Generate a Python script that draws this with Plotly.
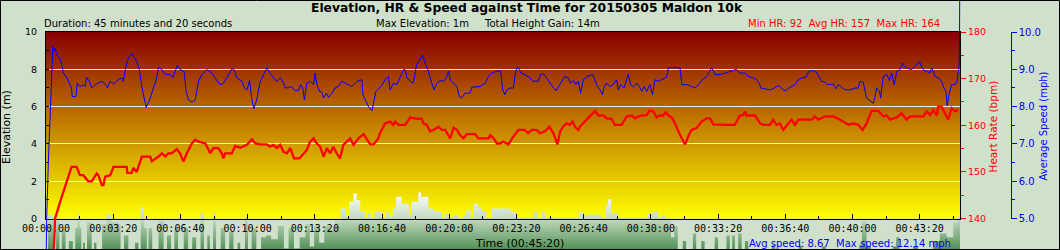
import base64
import struct
import zlib

import plotly.graph_objects as go

# ---------------- data (seconds, value) ----------------
hr_points = [(0, 92), (27, 140.0), (42, 143.6), (52, 145.7), (62, 148.2), (76, 151.1), (91, 151.1), (101, 149.3), (111, 149.3),
             (126, 148.0), (136, 148.0), (151, 149.7), (156, 149.3), (166, 147.2), (171, 147.2), (176, 149.0), (191, 149.3),
             (201, 151.1), (240, 151.1), (242, 149.8), (255, 149.8), (260, 150.9), (270, 150.0), (285, 153.3), (310, 153.3),
             (315, 152.3), (325, 152.8), (335, 153.3), (345, 154.0), (355, 153.3), (364, 154.0), (374, 154.0), (389, 154.9),
             (399, 154.0), (409, 152.2), (419, 154.0), (434, 156.1), (444, 156.9), (454, 156.5), (474, 156.1), (489, 154.0),
             (498, 155.1), (513, 155.1), (523, 154.0), (528, 152.9), (533, 154.0), (553, 154.0), (563, 155.6), (578, 155.2),
             (598, 155.8), (613, 157.0), (623, 156.1), (637, 155.9), (657, 155.9), (667, 155.4), (677, 155.8), (687, 155.1),
             (697, 155.8), (707, 154.3), (717, 154.0), (727, 155.1), (738, 152.9), (754, 152.9), (766, 154.0), (776, 154.7),
             (786, 156.5), (796, 157.2), (806, 156.1), (816, 155.4), (826, 153.3), (836, 155.1), (846, 154.0), (855, 155.4),
             (865, 154.0), (875, 152.9), (885, 155.8), (895, 156.5), (905, 157.2), (915, 155.8), (930, 157.2), (945, 158.1),
             (955, 156.9), (965, 155.9), (975, 155.9), (989, 157.2), (994, 158.3), (1009, 160.4), (1024, 160.8), (1034, 160.1),
             (1039, 160.8), (1049, 160.1), (1069, 160.1), (1084, 161.7), (1103, 161.4), (1118, 161.4), (1123, 160.4),
             (1133, 160.1), (1143, 158.7), (1153, 159.0), (1168, 159.7), (1178, 159.0), (1188, 159.0), (1203, 157.2),
             (1213, 159.5), (1223, 159.0), (1232, 157.9), (1242, 157.2), (1252, 158.1), (1277, 158.1), (1287, 157.2),
             (1317, 157.2), (1322, 157.9), (1332, 157.2), (1342, 156.1), (1351, 156.1), (1361, 156.5), (1376, 155.9),
             (1391, 157.6), (1406, 159.0), (1425, 159.0), (1435, 158.3), (1445, 159.0), (1460, 159.0), (1470, 158.3),
             (1485, 158.7), (1498, 159.7), (1510, 158.3), (1522, 155.9), (1530, 158.7), (1539, 159.7), (1549, 160.4),
             (1559, 160.1), (1567, 160.8), (1574, 159.7), (1584, 159.0), (1589, 159.7), (1604, 160.8), (1619, 161.9),
             (1634, 163.1), (1644, 162.1), (1659, 162.1), (1668, 161.5), (1683, 161.4), (1693, 160.1), (1713, 160.1),
             (1728, 161.9), (1743, 162.1), (1753, 161.5), (1763, 161.9), (1773, 162.1), (1788, 162.2), (1795, 163.1),
             (1807, 163.0), (1817, 161.7), (1827, 162.1), (1837, 162.1), (1844, 162.8), (1852, 162.1), (1862, 161.7),
             (1872, 160.4), (1887, 157.9), (1902, 155.9), (1911, 157.6), (1921, 159.0), (1936, 159.4), (1951, 160.8),
             (1966, 161.5), (1976, 161.5), (1986, 160.2), (2026, 160.1), (2050, 160.1), (2065, 162.1), (2075, 162.2),
             (2080, 163.0), (2085, 162.1), (2110, 162.1), (2125, 160.4), (2135, 160.1), (2155, 160.1), (2164, 161.2),
             (2174, 160.1), (2184, 160.4), (2194, 159.0), (2209, 160.4), (2219, 161.2), (2229, 160.1), (2239, 161.2),
             (2279, 161.2), (2288, 161.9), (2298, 161.2), (2318, 161.9), (2343, 161.9), (2363, 161.2), (2388, 160.1),
             (2403, 160.4), (2417, 160.1), (2430, 159.0), (2442, 160.4), (2457, 163.1), (2477, 163.1), (2492, 161.9),
             (2502, 162.1), (2512, 161.2), (2532, 161.7), (2546, 162.6), (2561, 161.2), (2571, 161.9), (2611, 161.9),
             (2621, 163.0), (2631, 162.2), (2641, 163.3), (2651, 162.1), (2655, 164.0), (2665, 164.0), (2675, 162.6),
             (2685, 161.2), (2695, 163.7), (2705, 163.0), (2715, 163.3)]

speed_points = [(0, 3.5), (2, 5.0), (7, 6.52), (12, 7.51), (15, 8.50), (18, 9.04), (20, 9.62), (24, 9.48), (27, 9.57),
                (32, 9.39), (42, 9.30), (47, 9.13), (52, 8.90), (62, 8.77), (72, 8.59), (76, 8.50), (78, 8.27), (89, 8.27),
                (93, 8.63), (101, 8.54), (111, 8.59), (116, 8.54), (121, 8.78), (129, 8.68), (136, 8.50), (146, 8.59),
                (156, 8.63), (166, 8.68), (176, 8.61), (183, 8.50), (191, 8.68), (201, 8.61), (215, 8.72), (225, 8.77),
                (230, 8.68), (238, 9.08), (245, 9.30), (255, 9.43), (270, 9.21), (278, 8.99), (285, 8.54), (292, 8.23),
                (298, 7.98), (308, 8.18), (320, 8.50), (328, 8.72), (335, 9.05), (345, 8.99), (355, 8.86), (370, 8.86),
                (378, 8.78), (384, 8.95), (391, 9.11), (399, 8.99), (411, 8.95), (417, 8.41), (424, 8.18), (434, 8.12),
                (444, 8.18), (454, 8.68), (464, 8.86), (477, 8.99), (489, 8.95), (503, 8.77), (518, 8.59), (526, 8.61),
                (538, 8.77), (553, 9.02), (560, 8.99), (568, 8.77), (583, 8.68), (590, 8.50), (598, 8.45), (606, 8.70),
                (610, 8.36), (618, 7.94), (627, 8.18), (637, 8.66), (647, 8.86), (657, 9.04), (667, 8.90), (677, 8.77),
                (687, 8.68), (697, 8.78), (707, 8.63), (712, 8.50), (722, 8.51), (731, 8.54), (741, 8.43), (751, 8.43),
                (758, 8.59), (764, 8.50), (769, 8.18), (776, 8.63), (786, 8.68), (796, 8.59), (801, 8.90), (806, 8.59),
                (814, 8.41), (821, 8.39), (826, 8.23), (834, 8.36), (841, 8.25), (851, 8.36), (860, 8.50), (870, 8.54),
                (880, 8.68), (890, 8.63), (900, 8.59), (910, 8.54), (925, 8.68), (940, 8.72), (943, 8.32), (950, 8.18),
                (960, 8.00), (970, 7.89), (975, 8.14), (982, 8.41), (992, 8.50), (999, 8.57), (1009, 8.72), (1019, 8.81),
                (1024, 8.45), (1034, 8.63), (1044, 8.59), (1049, 8.68), (1059, 8.86), (1064, 8.99), (1069, 8.99),
                (1074, 8.77), (1084, 8.68), (1092, 8.63), (1096, 8.77), (1103, 9.13), (1113, 9.26), (1121, 9.38),
                (1128, 9.17), (1138, 8.95), (1148, 8.63), (1155, 8.45), (1163, 8.63), (1173, 8.70), (1183, 8.68),
                (1191, 8.77), (1198, 8.95), (1203, 8.72), (1213, 8.63), (1223, 8.54), (1230, 8.27), (1237, 8.23),
                (1247, 8.36), (1262, 8.36), (1267, 8.52), (1277, 8.52), (1292, 8.54), (1307, 8.63), (1317, 8.81),
                (1327, 8.90), (1342, 8.95), (1353, 8.96), (1359, 8.45), (1366, 8.32), (1371, 8.45), (1381, 8.50),
                (1391, 8.50), (1396, 8.86), (1401, 9.04), (1406, 9.04), (1413, 8.90), (1425, 8.86), (1440, 8.77),
                (1450, 8.68), (1465, 8.68), (1472, 8.86), (1480, 8.88), (1490, 8.77), (1500, 8.63), (1510, 8.50),
                (1518, 8.43), (1525, 8.54), (1535, 8.68), (1544, 8.81), (1554, 8.77), (1561, 8.63), (1569, 8.70),
                (1577, 8.59), (1584, 8.68), (1591, 8.36), (1599, 8.72), (1611, 8.81), (1627, 8.86), (1634, 8.68),
                (1641, 8.54), (1649, 8.45), (1656, 8.32), (1661, 8.52), (1668, 8.63), (1678, 8.54), (1688, 8.59),
                (1698, 8.72), (1703, 8.45), (1710, 8.59), (1720, 8.50), (1728, 8.72), (1733, 8.86), (1740, 8.59),
                (1748, 8.52), (1758, 8.63), (1766, 8.54), (1773, 8.41), (1780, 8.54), (1788, 8.41), (1797, 8.59),
                (1805, 8.32), (1812, 8.72), (1822, 8.68), (1837, 8.75), (1847, 8.79), (1852, 9.04), (1872, 9.04),
                (1887, 9.04), (1892, 8.59), (1907, 8.59), (1921, 8.54), (1931, 8.50), (1941, 8.59), (1951, 8.70),
                (1966, 8.81), (1976, 8.99), (1981, 9.04), (1991, 8.86), (2006, 8.86), (2021, 8.90), (2035, 8.95),
                (2045, 8.97), (2055, 9.00), (2065, 8.90), (2080, 8.90), (2090, 8.81), (2105, 8.77), (2115, 8.72),
                (2123, 8.63), (2127, 8.50), (2135, 8.48), (2155, 8.45), (2164, 8.48), (2179, 8.57), (2189, 8.50),
                (2196, 8.43), (2204, 8.45), (2214, 8.52), (2229, 8.59), (2239, 8.72), (2249, 8.77), (2262, 8.79),
                (2269, 8.93), (2279, 8.97), (2291, 8.95), (2301, 8.81), (2308, 8.68), (2318, 8.66), (2325, 8.59),
                (2333, 8.59), (2343, 8.61), (2351, 8.48), (2358, 8.59), (2368, 8.52), (2378, 8.45), (2393, 8.45),
                (2408, 8.50), (2417, 8.50), (2422, 8.68), (2432, 8.66), (2437, 8.41), (2442, 8.23), (2452, 8.16),
                (2462, 8.09), (2467, 8.27), (2472, 8.50), (2480, 8.41), (2484, 8.23), (2487, 8.50), (2492, 8.81),
                (2502, 8.86), (2510, 8.70), (2517, 8.90), (2524, 8.59), (2532, 8.95), (2541, 8.99), (2549, 9.17),
                (2556, 9.06), (2566, 9.02), (2576, 8.99), (2586, 9.08), (2599, 9.21), (2606, 9.06), (2613, 8.97),
                (2621, 8.95), (2629, 8.90), (2636, 9.04), (2646, 8.81), (2656, 8.77), (2665, 8.68), (2672, 8.50),
                (2678, 8.41), (2682, 8.03), (2688, 8.36), (2695, 8.59), (2702, 8.59), (2710, 8.63), (2715, 8.99),
                (2718, 9.14), (2720, 12.14)]

elevation_points = [(0, -1.7), (6, 0.2), (22, -1.7), (30, -0.1), (40, -1.7), (47, -0.6), (58, -1.7), (68, -1.2), (80, -1.7),
                    (87, -0.5), (94, 0.25), (100, -0.5), (105, -1.7), (110, -1.3), (116, -1.7), (122, -0.2), (136, -1.7),
                    (143, -1.3), (150, -1.7), (167, -0.3), (180, 0.22), (195, -0.2), (215, -0.3), (222, -1.7), (232, -0.9),
                    (245, -1.7), (265, -1.3), (275, -1.7), (282, 0.6), (292, -0.5), (300, -1.7), (305, -0.5), (316, -1.7),
                    (335, -0.1), (350, -1.7), (360, -0.9), (372, -1.7), (382, -0.5), (393, -1.7), (410, -0.5), (423, -1.7),
                    (435, -1.0), (447, -1.7), (460, 0.27), (470, -1.7), (480, -0.9), (488, -1.7), (497, 0.27), (506, -1.7),
                    (520, -0.5), (533, -1.7), (545, -0.7), (558, -1.7), (570, -1.3), (578, -1.7), (592, 0.1), (601, -1.7),
                    (612, -0.5), (626, -1.7), (640, -1.0), (655, -0.9), (670, -1.1), (690, -0.4), (708, -1.6), (722, -0.5),
                    (738, -1.6), (755, -1.0), (772, -0.3), (785, -1.5), (798, -0.4), (813, -1.3), (828, -0.4), (845, -0.6),
                    (860, -0.1), (877, 0.54), (893, 0.1), (902, 0.9), (915, 1.35), (925, 1.0), (935, 0.4), (949, 0.05),
                    (957, 0.27), (968, 0.05), (977, 0.36), (998, 0.05), (1012, 0.36), (1023, 0.1), (1032, 0.54),
                    (1042, 1.17), (1058, 0.8), (1080, 0.2), (1087, 0.9), (1108, 1.4), (1116, 1.17), (1138, 0.54),
                    (1153, 0.36), (1178, 0.05), (1187, 0.27), (1198, 0.05), (1212, 0.18), (1228, 0.0), (1242, 0.18),
                    (1250, 0.45), (1264, 0.05), (1272, 0.8), (1286, 0.6), (1296, 0.36), (1310, 0.05), (1327, 0.54),
                    (1382, 0.36), (1396, 0.05), (1451, 0.36), (1462, 0.05), (1475, 0.36), (1486, 0.05), (1586, 0.36),
                    (1597, 0.2), (1652, 0.05), (1666, 0.7), (1672, 1.04), (1682, 0.27), (1702, 0.05), (1791, 0.27),
                    (1806, 0.36), (1822, 0.05), (1831, 0.18), (1842, 0.02), (1860, -1.0), (1870, -0.4), (1880, -1.7),
                    (1895, -1.2), (1905, -1.7), (1925, -0.8), (1935, -1.7), (1950, -1.2), (1960, -1.7), (1990, -1.0),
                    (2000, -1.7), (2025, -0.9), (2035, -1.7), (2042, -0.9), (2050, -1.7), (2060, -0.8), (2070, -1.7),
                    (2080, -1.2), (2090, -1.8), (2160, -1.4), (2170, -1.8), (2240, -1.45), (2250, -1.8), (2310, -1.5),
                    (2320, -1.8), (2420, -1.4), (2428, -0.1), (2442, -1.5), (2455, -1.8), (2520, -1.5), (2530, -1.0),
                    (2540, -1.8), (2580, -1.5), (2595, -1.8), (2640, -1.2), (2660, -0.8), (2680, -1.0), (2700, -0.2),
                    (2712, 0.1), (2720, 0.1)]

hr_time, hr_bpm = zip(*hr_points)
speed_time, speed_mph = zip(*speed_points)
elev_time, elev_m = zip(*elevation_points)

duration_s = 2720
elev_range = [0, 10]
hr_range = [140, 180]
speed_range = [5, 10]
time_tick_values = list(range(0, 2601, 200))
time_tick_labels = ["%02d:%02d:%02d" % (v // 3600, (v % 3600) // 60, v % 60) for v in time_tick_values]

title_text = "Elevation, HR & Speed against Time for 20150305 Maldon 10k"

# ---------------- layout geometry (pixels) ----------------
W, H = 1060, 250
FL, FR, FT, FB = 46.0, 960.0, 32.0, 218.6
BG = "#cfe0cb"
FONT = "DejaVu Sans"


def full_range(lo, hi, p_lo, p_hi, total):
    k = (hi - lo) / (p_hi - p_lo)
    return [lo - p_lo * k, lo + (total - p_lo) * k]


x_full = full_range(0, duration_s, FL, FR, W)
elev_full = full_range(elev_range[0], elev_range[1], H - FB, H - FT, H)
hr_full = full_range(hr_range[0], hr_range[1], H - FB, H - FT, H)
speed_full = full_range(speed_range[0], speed_range[1], H - FB, H - FT, H)
frame_xdom = [FL / W, FR / W]
frame_ydom = [(H - FB) / H, (H - FT) / H]


def gradient_png(top, bottom, n=256):
    rows = []
    for i in range(n):
        f = i / (n - 1)
        c = bytes(int(round(top[j] + (bottom[j] - top[j]) * f)) for j in range(3))
        rows.append(b"\x00" + c)
    raw = b"".join(rows)

    def chunk(tag, data):
        return struct.pack(">I", len(data)) + tag + data + struct.pack(">I", zlib.crc32(tag + data) & 0xffffffff)

    png = (b"\x89PNG\r\n\x1a\n" + chunk(b"IHDR", struct.pack(">IIBBBBB", 1, n, 8, 2, 0, 0, 0))
           + chunk(b"IDAT", zlib.compress(raw)) + chunk(b"IEND", b""))
    return "data:image/png;base64," + base64.b64encode(png).decode()


fig = go.Figure()

# elevation (drawn first, on a full-height axis so it can extend below the frame)
fig.add_trace(go.Scatter(x=[elev_time[0], elev_time[-1]], y=[elev_full[0], elev_full[0]], mode="lines",
                         line=dict(width=0), hoverinfo="skip", showlegend=False, xaxis="x", yaxis="y"))
fig.add_trace(go.Scatter(x=elev_time, y=elev_m, mode="lines", line=dict(width=0, shape="hv"), fill="tonexty",
                         fillgradient=dict(type="vertical", start=elev_full[0], stop=1.45,
                                           colorscale=[[0, "#4f8f53"], [0.537, "#c3dac1"], [1, "#ffffff"]]),
                         showlegend=False, xaxis="x", yaxis="y"))

# empty traces so the frame axes get drawn
for ya in ("y2", "y3", "y4"):
    fig.add_trace(go.Scatter(x=[None], y=[None], mode="lines", hoverinfo="skip", showlegend=False,
                             xaxis="x2", yaxis=ya))

# heart rate and speed lines (drawn last, unclipped by the frame)
fig.add_trace(go.Scatter(x=hr_time, y=hr_bpm, mode="lines", line=dict(color="#ff0000", width=2.3),
                         showlegend=False, xaxis="x3", yaxis="y5"))
fig.add_trace(go.Scatter(x=speed_time, y=speed_mph, mode="lines", line=dict(color="#0000ff", width=1),
                         showlegend=False, xaxis="x3", yaxis="y6"))

hidden = dict(visible=False, showgrid=False, zeroline=False, fixedrange=True, automargin=False)

fig.update_layout(
    template="none",
    width=W, height=H, margin=dict(l=0, r=0, t=0, b=0, pad=0, autoexpand=False),
    paper_bgcolor=BG, plot_bgcolor="rgba(0,0,0,0)",
    font=dict(family=FONT, size=10, color="black"),
    showlegend=False,
    xaxis=dict(domain=[0, 1], range=x_full, anchor="y", **hidden),
    yaxis=dict(domain=[0, 1], range=elev_full, anchor="x", **hidden),
    xaxis3=dict(domain=[0, 1], range=x_full, anchor="y5", **hidden),
    yaxis5=dict(domain=[0, 1], range=hr_full, anchor="x3", **hidden),
    yaxis6=dict(domain=[0, 1], range=speed_full, anchor="x3", overlaying="y5", **hidden),
    # visible frame axes
    xaxis2=dict(domain=frame_xdom, range=[0, duration_s], anchor="y2", showline=True, linecolor="black",
                linewidth=1, mirror=True, ticks="inside", ticklen=5, tickcolor="black", tickmode="array",
                tickvals=time_tick_values, ticktext=time_tick_labels, showgrid=False, zeroline=False,
                tickfont=dict(family="DejaVu Sans Mono", size=10, color="black"), fixedrange=True, automargin=False,
                minor=dict(tickmode="linear", tick0=0, dtick=100, ticks="inside", ticklen=3, tickcolor="black",
                           showgrid=False)),
    yaxis2=dict(domain=frame_ydom, range=elev_range, anchor="x2", side="left", showline=True, linecolor="black",
                linewidth=1, mirror=True, ticks="inside", ticklen=3, tickcolor="black", tickmode="linear", tick0=0,
                dtick=2, showgrid=True, gridcolor="rgba(242,242,242,0.95)", gridwidth=1.2, zeroline=False,
                tickfont=dict(size=9.5, color="black"), ticklabelstandoff=6, fixedrange=True, automargin=False,
                minor=dict(tickmode="linear", tick0=0, dtick=1, ticks="inside", ticklen=3, tickcolor="black",
                           showgrid=False)),
    yaxis3=dict(range=hr_range, overlaying="y2", anchor="x2", side="right", showline=False, ticks="outside",
                ticklen=5, tickcolor="#ff0000", tickmode="linear", tick0=140, dtick=10, showgrid=False,
                zeroline=False, tickfont=dict(size=9.5, color="#ff0000"), fixedrange=True, automargin=False,
                minor=dict(tickmode="linear", tick0=140, dtick=5, ticks="outside", ticklen=3, tickcolor="#ff0000",
                           showgrid=False)),
    yaxis4=dict(range=speed_range, overlaying="y2", anchor="free", position=1010.7 / W, side="right",
                showline=True, linecolor="#0000ff", linewidth=1, ticks="outside", ticklen=5, tickcolor="#0000ff",
                tickmode="linear", tick0=5, dtick=1, tickformat=".1f", showgrid=False, zeroline=False,
                tickfont=dict(size=10, color="#0000ff"), fixedrange=True, automargin=False,
                minor=dict(tickmode="linear", tick0=5, dtick=0.5, ticks="outside", ticklen=3, tickcolor="#0000ff",
                           showgrid=False)),
    images=[dict(source=gradient_png((136, 0, 0), (255, 255, 0)), xref="paper", yref="paper",
                 x=FL / W, y=(H - FT) / H, sizex=(FR - FL) / W, sizey=(FB - FT) / H,
                 xanchor="left", yanchor="top", sizing="stretch", layer="below")],
    shapes=[dict(type="rect", xref="paper", yref="paper", x0=0.5 / W, x1=1 - 0.5 / W, y0=0.5 / H, y1=1 - 0.5 / H,
                 line=dict(color="black", width=1), fillcolor="rgba(0,0,0,0)", layer="above")],
)


def px_ann(text, x, y, xanchor="left", size=10, color="black", angle=0, family=FONT):
    fig.add_annotation(text=text, x=x / W, y=1 - y / H, xref="paper", yref="paper", showarrow=False,
                       xanchor=xanchor, yanchor="middle", textangle=angle, borderpad=0,
                       font=dict(family=family, size=size, color=color))


px_ann("<b>" + title_text + "</b>", 526.5, 7.5, xanchor="center", size=12.3)
px_ann("Duration: 45 minutes and 20 seconds", 43, 24, size=10)
px_ann("Max Elevation: 1m", 375, 24, size=10)
px_ann("Total Height Gain: 14m", 482.7, 24, size=10)
px_ann("Min HR: 92  Avg HR: 157  Max HR: 164", 747, 23.5, size=10, color="#ff0000")
px_ann("Time (00:45:20)", 474, 243, size=11)
px_ann("Avg speed: 8.67  Max speed: 12.14 mph", 748, 243.5, size=10, color="#0000ff")
px_ann("Elevation (m)", 6, 127, xanchor="center", size=11, angle=-90)
px_ann("Heart Rate (bpm)", 992.5, 127, xanchor="center", size=10.5, color="#ff0000", angle=-90)
px_ann("Average Speed (mph)", 1043, 126.5, xanchor="center", size=10, color="#0000ff", angle=-90)

fig.write_html("out.html")
